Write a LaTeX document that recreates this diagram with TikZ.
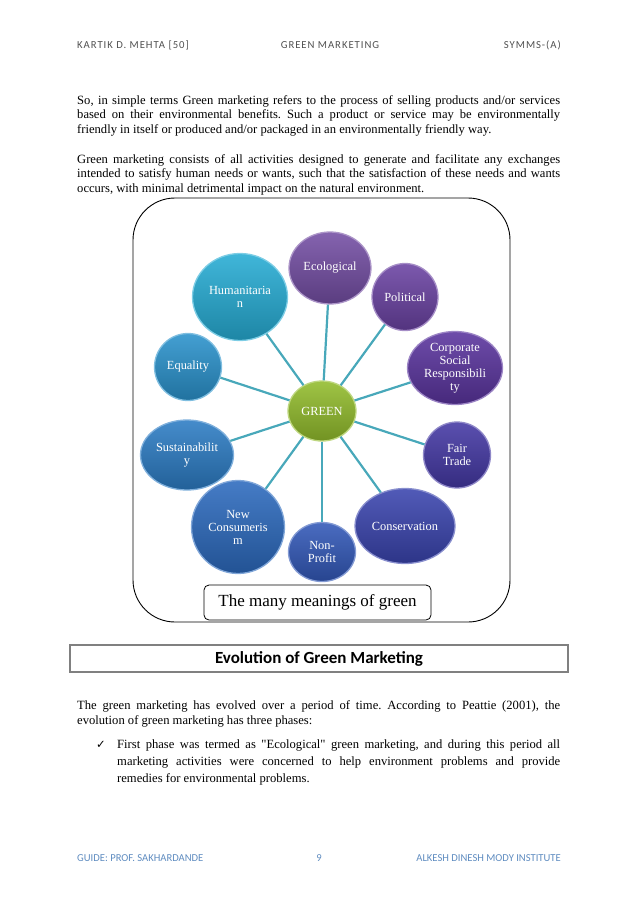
\documentclass[tikz,border=0pt]{standalone}
\usepackage{fontspec}
\setmainfont{Liberation Serif}[Ligatures=TeXOff]
\newfontfamily\calfont{Carlito}
\newfontfamily\hdrfont[LetterSpace=9]{Carlito}
\newfontfamily\symfont{DejaVu Sans}
\usetikzlibrary{shapes.geometric, backgrounds}
\frenchspacing

\definecolor{cHum}{RGB}{38,172,212}
\definecolor{cEqu}{RGB}{42,146,204}
\definecolor{cSus}{RGB}{44,124,196}
\definecolor{cNew}{RGB}{44,106,190}
\definecolor{cNon}{RGB}{50,88,184}
\definecolor{cCon}{RGB}{58,68,174}
\definecolor{cFair}{RGB}{68,56,164}
\definecolor{cCsr}{RGB}{90,52,158}
\definecolor{cPol}{RGB}{106,66,162}
\definecolor{cEco}{RGB}{116,78,164}
\definecolor{cGreen}{RGB}{146,188,44}
\definecolor{spokecol}{RGB}{72,168,186}
\definecolor{hdrgray}{RGB}{80,80,80}
\definecolor{ftrblue}{RGB}{95,140,192}

\newcommand\jline[2][483pt]{\makebox[#1][s]{#2}}

\begin{document}
\begin{tikzpicture}[
    x=1pt, y=-1pt,
    body/.style={anchor=base west, inner sep=0pt, font=\fontsize{12.6}{14}\selectfont},
    hdr/.style={anchor=base, inner sep=0pt, text=hdrgray, font=\hdrfont\fontsize{10.7}{12}\selectfont},
    ftr/.style={anchor=base, inner sep=0pt, text=ftrblue, font=\calfont\fontsize{10.6}{12}\selectfont},
    bubble/.style={ellipse, inner sep=0pt, align=center, text=white,
        font=\fontsize{12.4}{13}\selectfont, draw=#1!60!white, line width=1.3pt,
        top color=#1!88!white, bottom color=#1!78!black},
    spoke/.style={draw=spokecol, line width=2.2pt}
]
    \useasboundingbox (0,0) rectangle (638,903);

    % Header
    \node[hdr, anchor=base west] (hl) at (77,48) {KARTIK D. MEHTA [50]};
    \node[hdr] (hc) at (330,48) {GREEN MARKETING};
    \node[hdr, anchor=base east] (hr) at (561,48) {SYMMS-(A)};

    % Opening paragraphs
    \node[body] (p1a) at (77,104) {\jline{So, in simple terms Green marketing refers to the process of selling products and/or services}};
    \node[body] (p1b) at (77,118.5) {\jline{based on their environmental benefits. Such a product or service may be environmentally}};
    \node[body] (p1c) at (77,133) {friendly in itself or produced and/or packaged in an environmentally friendly way.};

    \node[body] (p2a) at (77,163) {\jline{Green marketing consists of all activities designed to generate and facilitate any exchanges}};
    \node[body] (p2b) at (77,177.5) {\jline{intended to satisfy human needs or wants, such that the satisfaction of these needs and wants}};
    \node[body] (p2c) at (77,192) {occurs, with minimal detrimental impact on the natural environment.};

    % Frame round the diagram
    \draw[line width=0.9pt, rounded corners=42pt] (133,198) rectangle (510,622);

    % Centre
    \node[bubble=cGreen, minimum width=68pt, minimum height=60pt] (green) at (322,411) {GREEN};

    % Meanings
    \node[bubble=cEco, minimum width=82pt, minimum height=72pt] (eco) at (330,268) {Ecological};
    \node[bubble=cPol, minimum width=66pt, minimum height=67pt] (pol) at (405,297) {Political};
    \node[bubble=cCsr, minimum width=95pt, minimum height=73pt] (csr) at (455,368) {Corporate\\Social\\Responsibili\\ty};
    \node[bubble=cFair, minimum width=67pt, minimum height=66pt] (fair) at (457,455) {Fair\\Trade};
    \node[bubble=cCon, minimum width=100pt, minimum height=75pt] (cons) at (405,526) {Conservation};
    \node[bubble=cNon, minimum width=67pt, minimum height=59pt] (nonp) at (322,552) {Non-\\Profit};
    \node[bubble=cNew, minimum width=93pt, minimum height=93pt] (newc) at (238,527) {New\\Consumeris\\m};
    \node[bubble=cSus, minimum width=93pt, minimum height=70pt] (sust) at (187,455) {Sustainabilit\\y};
    \node[bubble=cEqu, minimum width=67pt, minimum height=67pt] (equ) at (188,367) {Equality};
    \node[bubble=cHum, minimum width=95pt, minimum height=87pt] (hum) at (240,297) {Humanitaria\\n};

    % Spokes
    \foreach \b in {eco,pol,csr,fair,cons,nonp,newc,sust,equ,hum}
        \draw[spoke] (green) -- (\b);

    % Caption
    \node[draw, line width=0.8pt, rounded corners=5pt, fill=white, minimum width=227pt, minimum height=35pt,
        font=\fontsize{17}{20}\selectfont] (cap) at (317.5,602.5) {The many meanings of green};

    % Section heading
    \node[draw=gray, line width=2pt, minimum width=498pt, minimum height=27pt,
        font=\calfont\bfseries\fontsize{17}{20}\selectfont] (evo) at (319,658.5) {Evolution of Green Marketing};

    % Evolution text
    \node[body] (p3a) at (77,709) {\jline{The green marketing has evolved over a period of time. According to Peattie (2001), the}};
    \node[body] (p3b) at (77,724) {evolution of green marketing has three phases:};

    \node[anchor=base, inner sep=0pt, font=\symfont\fontsize{11.5}{13}\selectfont] (tick) at (101,748) {✓};
    \node[body] (b1a) at (117,748) {\jline[443pt]{First phase was termed as "Ecological" green marketing, and during this period all}};
    \node[body] (b1b) at (117,765) {\jline[443pt]{marketing activities were concerned to help environment problems and provide}};
    \node[body] (b1c) at (117,782) {remedies for environmental problems.};

    % Footer
    \node[ftr, anchor=base west] (fl) at (77,861) {GUIDE: PROF. SAKHARDANDE};
    \node[ftr] (fc) at (319,861) {9};
    \node[ftr, anchor=base east] (fr) at (561,861) {ALKESH DINESH MODY INSTITUTE};
\end{tikzpicture}
\end{document}
